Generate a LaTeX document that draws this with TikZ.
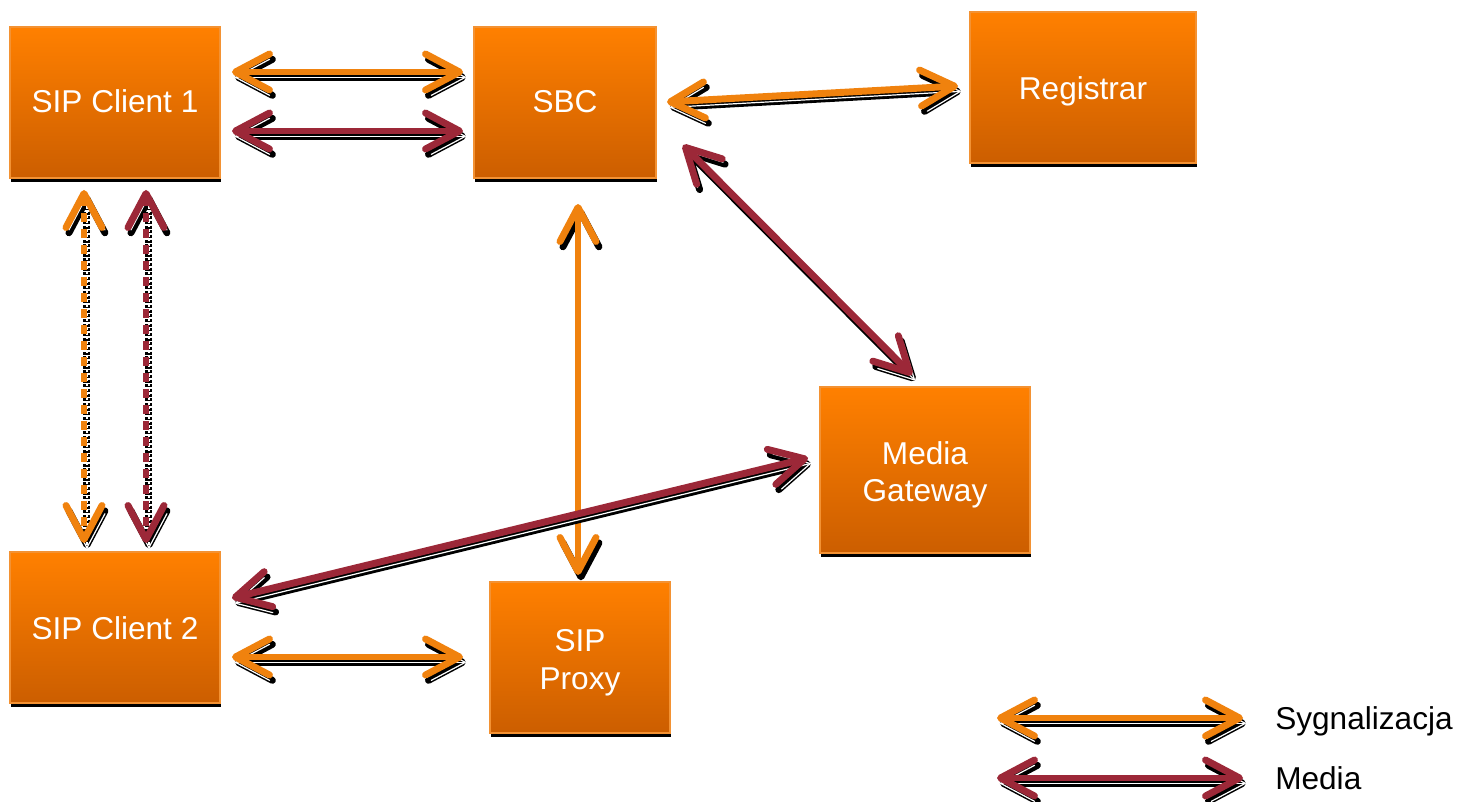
\documentclass[tikz,border=0pt]{standalone}
\usepackage{fontspec}
\setmainfont{Liberation Sans}
\usetikzlibrary{arrows.meta,shadows}

\definecolor{sig}{HTML}{F0820E}
\definecolor{med}{HTML}{9C2838}
\definecolor{boxtop}{HTML}{FF8000}
\definecolor{boxbot}{HTML}{CC5E00}
\definecolor{boxedge}{HTML}{F39233}

\tikzset{
  barb/.tip={Straight Barb[length=25.5pt,width=27pt,line cap=round,line join=round]},
  blackbarb/.tip={Straight Barb[length=25.5pt,width=27pt,line cap=round,line join=round,color=black]},
  blockbox/.style={rectangle, inner sep=0pt, top color=boxtop, bottom color=boxbot,
    draw=boxedge, line width=0.8pt,
    general shadow={fill=black, shadow xshift=0.6pt, shadow yshift=-3pt}},
  boxtext/.style={anchor=base, inner sep=0pt, text=white,
    font=\fontsize{23.7}{28.4}\selectfont},
  legendtext/.style={anchor=base west, inner sep=0pt, text=black,
    font=\fontsize{23.7}{28.4}\selectfont},
  wire/.style={line width=5.2pt, arrows={barb-barb}},
  shade1/.style={wire, draw=black, transform canvas={shift={(2.2pt,-4pt)}}},
  shade2/.style={line width=0.9pt, arrows={barb-barb}, draw=white,
    transform canvas={shift={(2.2pt,-4pt)}}},
  sigline/.style={wire, draw=sig},
  medline/.style={wire, draw=med},
  dashline/.style={dash pattern=on 7pt off 5pt},
  dashshade/.style={dash pattern=on 2.2pt off 1.3pt},
}

% connector with its black drop shadow: colour style, extra options, ends
\newcommand\link[5]{%
  \draw[shade1,#3] (#4) -- (#5);
  \draw[shade2,#3] (#4) -- (#5);
  \draw[#1,#2] (#4) -- (#5);
}

\begin{document}
\begin{tikzpicture}[x=0.75pt,y=-0.75pt]
\useasboundingbox (0,0) rectangle (1460,802);

% blocks
\node[blockbox, minimum width=157.5pt, minimum height=113.25pt] (c1)  at (115,102.5) {};
\node[blockbox, minimum width=136.5pt, minimum height=113.25pt] (sbc) at (565,102.5) {};
\node[blockbox, minimum width=169.5pt, minimum height=113.25pt] (reg) at (1083,87.5) {};
\node[blockbox, minimum width=157.5pt, minimum height=124.5pt]  (mgw) at (925,470)   {};
\node[blockbox, minimum width=157.5pt, minimum height=113.25pt] (c2)  at (115,627.5) {};
\node[blockbox, minimum width=135pt,   minimum height=113.25pt] (prx) at (580,657.5) {};

% block captions, set on their baselines
\node[boxtext] (c1t)  at (115,113)  {SIP Client 1};
\node[boxtext] (sbct) at (565,113)  {SBC};
\node[boxtext] (regt) at (1083,99.5) {Registrar};
\node[boxtext] (mgwt1) at (925,464) {Media};
\node[boxtext] (mgwt2) at (925,501) {Gateway};
\node[boxtext] (c2t)  at (115,639)  {SIP Client 2};
\node[boxtext] (prxt1) at (580,651) {SIP};
\node[boxtext] (prxt2) at (580,689) {Proxy};

% connector end points
\coordinate (c1sbcA) at (232,72);   \coordinate (sbcc1A) at (463,72);
\coordinate (c1sbcB) at (232,131);  \coordinate (sbcc1B) at (463,131);
\coordinate (sbcreg) at (667,102);  \coordinate (regsbc) at (958,86);
\coordinate (sbcmgw) at (683,145);  \coordinate (mgwsbc) at (912,375);
\coordinate (c1c2A)  at (84,190);   \coordinate (c2c1A)  at (84,543);
\coordinate (c1c2B)  at (146,190);  \coordinate (c2c1B)  at (146,543);
\coordinate (sbcprx) at (578,204);  \coordinate (prxsbc) at (578,575);
\coordinate (c2mgw)  at (232,598);  \coordinate (mgwc2)  at (808,458);
\coordinate (c2prx)  at (232,657);  \coordinate (prxc2)  at (463,657);

% connectors
\link{sigline}{}{}{c1sbcA}{sbcc1A}
\link{medline}{}{}{c1sbcB}{sbcc1B}
\link{sigline}{}{}{sbcreg}{regsbc}
\link{medline}{}{}{sbcmgw}{mgwsbc}
\link{sigline}{dashline}{dashshade}{c1c2A}{c2c1A}
\link{medline}{dashline}{dashshade}{c1c2B}{c2c1B}
% the SBC--proxy line casts its shadow only at the tips
\draw[shade1, draw=white, arrows={blackbarb-blackbarb}] (sbcprx) -- (prxsbc);
\draw[sigline] (sbcprx) -- (prxsbc);
\link{medline}{}{}{c2mgw}{mgwc2}
\link{sigline}{}{}{c2prx}{prxc2}

% legend
\node[legendtext] (lsig) at (1275,729) {Sygnalizacja};
\node[legendtext] (lmed) at (1275,789) {Media};
\coordinate (lsigA) at (997,718);  \coordinate (lsigB) at (1243,718);
\coordinate (lmedA) at (997,778);  \coordinate (lmedB) at (1243,778);
\link{sigline}{}{}{lsigA}{lsigB}
\link{medline}{}{}{lmedA}{lmedB}
\end{tikzpicture}
\end{document}
